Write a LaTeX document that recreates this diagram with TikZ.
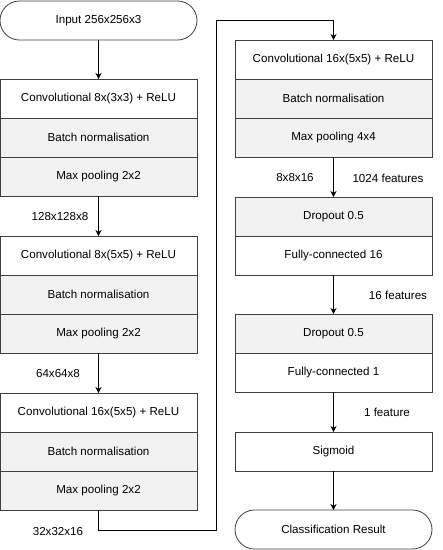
\documentclass[tikz,border=0pt]{standalone}
\usepackage{fontspec}
\setmainfont{Liberation Sans}
\usetikzlibrary{arrows.meta}
\begin{document}
\begin{tikzpicture}[x=1pt,y=-1pt,
  font=\fontsize{11.6}{13}\selectfont,
  cell/.style={draw=black!75,line width=0.8pt,minimum width=197pt,minimum height=39pt,inner sep=0pt,outer sep=0pt,fill=white},
  graycell/.style={cell,fill=gray!10},
  term/.style={cell,rounded corners=19.5pt},
  arr/.style={draw=black,line width=0.9pt,-{Stealth[length=6pt,width=6pt]}},
  lbl/.style={inner sep=0pt,anchor=center}]
\useasboundingbox (0,0) rectangle (443,550);
% left column
\node[term] (input) at (98.5,20.5) {Input 256x256x3};
\node[cell] (conv1) at (98.5,98.5) {Convolutional 8x(3x3) + ReLU};
\node[graycell] (bn1) at (98.5,137.5) {Batch normalisation};
\node[graycell] (mp1) at (98.5,176.5) {Max pooling 2x2};
\node[cell] (conv2) at (98.5,255.5) {Convolutional 8x(5x5) + ReLU};
\node[graycell] (bn2) at (98.5,294.5) {Batch normalisation};
\node[graycell] (mp2) at (98.5,333.5) {Max pooling 2x2};
\node[cell] (conv3) at (98.5,412.5) {Convolutional 16x(5x5) + ReLU};
\node[graycell] (bn3) at (98.5,451.5) {Batch normalisation};
\node[graycell] (mp3) at (98.5,490.5) {Max pooling 2x2};
% right column
\node[cell] (conv4) at (333.5,59.5) {Convolutional 16x(5x5) + ReLU};
\node[graycell] (bn4) at (333.5,98.5) {Batch normalisation};
\node[graycell] (mp4) at (333.5,137.5) {Max pooling 4x4};
\node[graycell] (do1) at (333.5,216.5) {Dropout 0.5};
\node[cell] (fc16) at (333.5,255.5) {Fully-connected 16};
\node[graycell] (do2) at (333.5,333.5) {Dropout 0.5};
\node[cell] (fc1) at (333.5,372.5) {Fully-connected 1};
\node[cell] (sig) at (333.5,451.5) {Sigmoid};
\node[term] (res) at (333.5,529.5) {Classification Result};
% connectors
\draw[arr] (input) -- (conv1);
\draw[arr] (mp1) -- (conv2);
\draw[arr] (mp2) -- (conv3);
\coordinate (c1) at (98.5,530);
\coordinate (c2) at (216,530);
\coordinate (c3) at (216,20);
\coordinate (c4) at (333.5,20);
\draw[arr] (mp3.south) -- (c1) -- (c2) -- (c3) -- (c4) -- (conv4.north);
\draw[arr] (mp4) -- (do1);
\draw[arr] (fc16) -- (do2);
\draw[arr] (fc1) -- (sig);
\draw[arr] (sig) -- (res);
% labels
\node[lbl] (l1) at (60,217) {128x128x8};
\node[lbl] (l2) at (58,373) {64x64x8};
\node[lbl] (l3) at (58,531) {32x32x16};
\node[lbl] (l4) at (295,178) {8x8x16};
\node[lbl] (l5) at (388,178) {1024 features};
\node[lbl] (l6) at (398,295) {16 features};
\node[lbl] (l7) at (387,412) {1 feature};
\end{tikzpicture}
\end{document}
